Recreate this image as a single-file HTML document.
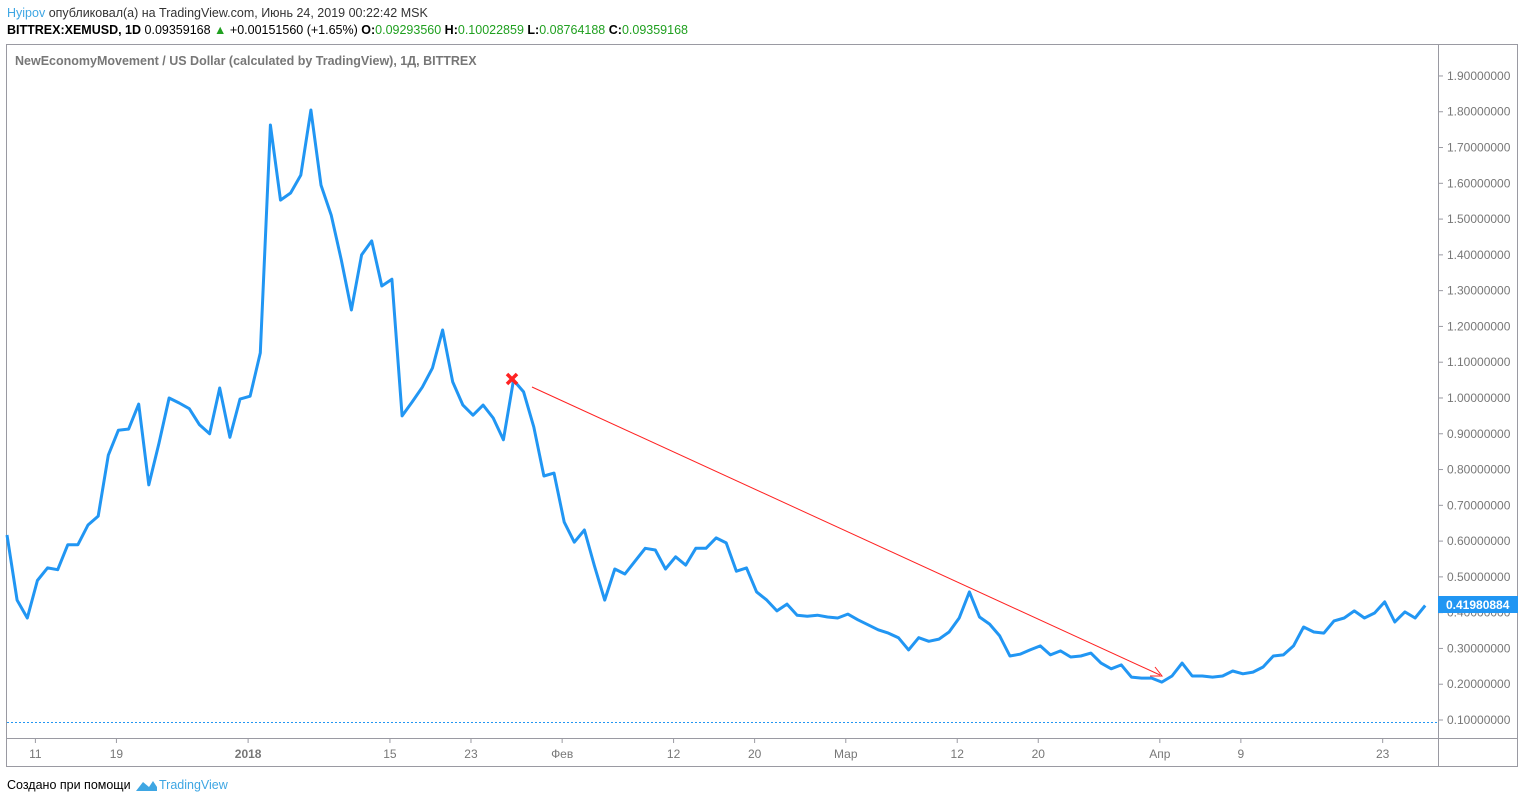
<!DOCTYPE html>
<html><head><meta charset="utf-8"><style>
body{margin:0;width:1524px;height:803px;background:#fff;overflow:hidden;font-family:"Liberation Sans",sans-serif;}
svg{position:absolute;left:0;top:0}
</style></head><body>
<svg id="c" width="1524" height="803">
<text x="7" y="17" font-size="12.5" fill="#333"><tspan fill="#3ea6e3">Hyipov</tspan> опубликовал(а) на TradingView.com, Июнь 24, 2019 00:22:42 MSK</text>
<text x="7" y="34" font-size="12.5" fill="#000"><tspan font-weight="bold">BITTREX:XEMUSD, 1D</tspan> 0.09359168 <tspan fill="#20a020">▲</tspan> +0.00151560 (+1.65%) <tspan font-weight="bold">O:</tspan><tspan fill="#20a020">0.09293560</tspan> <tspan font-weight="bold">H:</tspan><tspan fill="#20a020">0.10022859</tspan> <tspan font-weight="bold">L:</tspan><tspan fill="#20a020">0.08764188</tspan> <tspan font-weight="bold">C:</tspan><tspan fill="#20a020">0.09359168</tspan></text>
<rect x="6.5" y="44.5" width="1511" height="722" fill="none" stroke="#9a9aa2"/>
<line x1="1438.5" y1="44" x2="1438.5" y2="767" stroke="#9a9aa2"/>
<line x1="6" y1="738.5" x2="1518" y2="738.5" stroke="#9a9aa2"/>
<text x="15" y="65" font-size="12.5" font-weight="bold" fill="#777">NewEconomyMovement / US Dollar (calculated by TradingView), 1Д, BITTREX</text>
<g id="yax"></g><g id="xax"></g>
<line x1="7" y1="722.5" x2="1438" y2="722.5" stroke="#2196f3" stroke-dasharray="2,2"/>
<polyline id="line" fill="none" stroke="#2196f3" stroke-width="3" stroke-linejoin="round"/>
<line x1="532" y1="387" x2="1160" y2="675" stroke="#f22" stroke-width="1"/>
<polyline points="1150,676 1162,676 1155,667" fill="none" stroke="#f22"/>
<g stroke="#f22" stroke-width="3.5"><line x1="507" y1="374" x2="517" y2="384"/><line x1="517" y1="374" x2="507" y2="384"/></g>
<rect x="1438" y="596" width="80" height="17" fill="#2196f3"/>
<text x="1446" y="609" font-size="12" font-weight="bold" fill="#fff">0.41980884</text>
<text x="7" y="789" font-size="12.5" fill="#000">Создано при помощи</text>
<path d="M136,791 L143,782 L149,787 L153,781 L157,787 L157,791 Z" fill="#3ea6e3"/>
<text x="159" y="789" font-size="12.5" fill="#3ea6e3">TradingView</text>
</svg>
<script>
const values=[0.617,0.435,0.385,0.49,0.525,0.52,0.59,0.59,0.645,0.67,0.84,0.91,0.913,0.983,0.757,0.874,1.0,0.986,0.97,0.925,0.90,1.028,0.89,0.997,1.005,1.126,1.763,1.553,1.573,1.623,1.805,1.595,1.511,1.386,1.246,1.40,1.439,1.313,1.332,0.95,0.989,1.03,1.084,1.19,1.045,0.98,0.952,0.98,0.944,0.883,1.05,1.017,0.919,0.782,0.79,0.653,0.597,0.631,0.53,0.435,0.522,0.508,0.544,0.58,0.575,0.522,0.556,0.533,0.58,0.58,0.609,0.595,0.516,0.525,0.458,0.435,0.405,0.424,0.393,0.39,0.393,0.388,0.385,0.396,0.38,0.366,0.352,0.343,0.33,0.296,0.33,0.32,0.326,0.346,0.385,0.458,0.388,0.368,0.335,0.279,0.284,0.296,0.307,0.282,0.293,0.276,0.279,0.287,0.259,0.243,0.254,0.22,0.217,0.217,0.206,0.223,0.259,0.223,0.223,0.22,0.223,0.237,0.229,0.234,0.248,0.279,0.282,0.307,0.36,0.346,0.343,0.377,0.385,0.405,0.385,0.399,0.43,0.374,0.402,0.385,0.42];
const yTicks=[0.1,0.2,0.3,0.4,0.5,0.6,0.7,0.8,0.9,1.0,1.1,1.2,1.3,1.4,1.5,1.6,1.7,1.8,1.9];
const xLabels=["11","19","2018","15","23","Фев","12","20","Мар","12","20","Апр","9","23"];
const xLabelDays=[3,11,24,38,46,55,66,74,83,94,102,114,122,136];
const NS="http://www.w3.org/2000/svg";
const y=v=>720-(v-0.1)*357.8;
const x=i=>7+i*10.13;
document.getElementById('line').setAttribute('points',values.map((v,i)=>x(i).toFixed(1)+','+y(v).toFixed(1)).join(' '));
const ya=document.getElementById('yax');
yTicks.forEach(t=>{
 const l=document.createElementNS(NS,'line');
 l.setAttribute('x1',1438);l.setAttribute('x2',1443);l.setAttribute('y1',y(t));l.setAttribute('y2',y(t));l.setAttribute('stroke','#9a9aa2');
 
 
 ya.appendChild(l);
 const s=document.createElementNS(NS,'text');
 s.setAttribute('x',1447);s.setAttribute('y',y(t)+4);s.setAttribute('font-size','12');s.setAttribute('fill','#777');
 s.textContent=t.toFixed(8);
 
 
 ya.appendChild(s);
});
const xa=document.getElementById('xax');
xLabels.forEach((lb,k)=>{
 const px=x(xLabelDays[k])-2;
 const l=document.createElementNS(NS,'line');
 l.setAttribute('x1',px);l.setAttribute('x2',px);l.setAttribute('y1',738);l.setAttribute('y2',743);l.setAttribute('stroke','#9a9aa2');
 
 
 xa.appendChild(l);
 const s=document.createElementNS(NS,'text');
 s.setAttribute('x',px);s.setAttribute('y',758);s.setAttribute('font-size','12');s.setAttribute('fill','#777');s.setAttribute('text-anchor','middle');
 if(lb==='2018')s.setAttribute('font-weight','bold');
 s.textContent=lb;
 
 
 xa.appendChild(s);
});
</script>
</body></html>
